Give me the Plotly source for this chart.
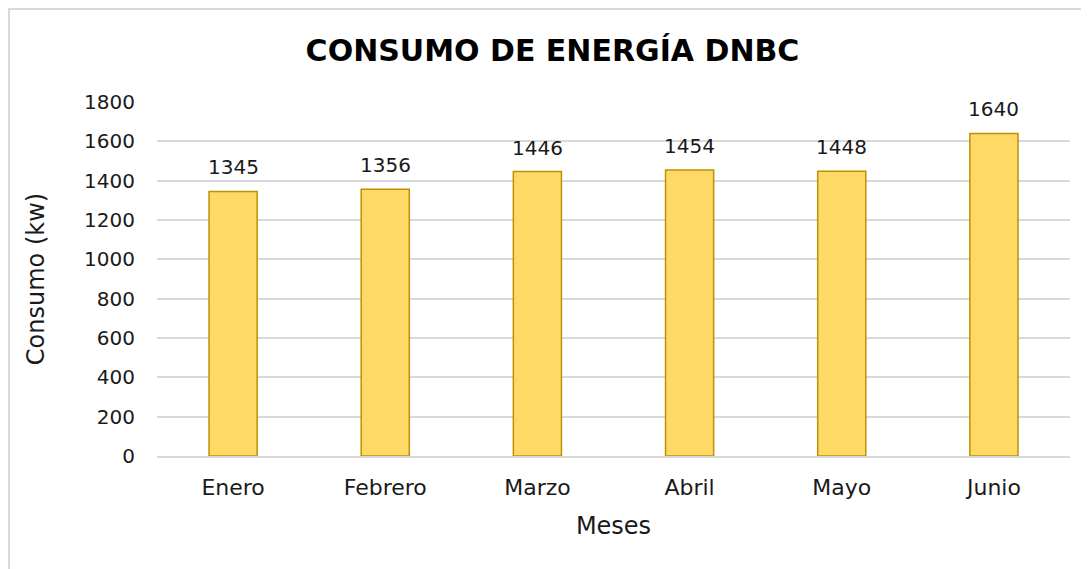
import plotly.graph_objects as go

meses = ["Enero", "Febrero", "Marzo", "Abril", "Mayo", "Junio"]
consumo = [1345, 1356, 1446, 1454, 1448, 1640]
y_ticks = [0, 200, 400, 600, 800, 1000, 1200, 1400, 1600, 1800]

FONT = "DejaVu Sans"
TXT = "#1a1a1a"

fig = go.Figure()
fig.add_trace(go.Bar(
    x=meses, y=consumo,
    marker=dict(color="#FFD966", line=dict(color="#BF9000", width=1.5)),
    hoverinfo="x+y",
))

for m, v in zip(meses, consumo):
    fig.add_annotation(x=m, y=v, text=str(v), showarrow=False, yanchor="middle",
                       yshift=24, font=dict(family=FONT, size=20, color=TXT))

L, T, R, B = 149, 94, 27, 121
PW = 1089 - L - R
PH = 569 - T - B

fig.update_layout(
    width=1089, height=569,
    paper_bgcolor="white", plot_bgcolor="white",
    margin=dict(l=L, r=R, t=T, b=B),
    bargap=0.684,
    showlegend=False,
    title=dict(text="<b>CONSUMO DE ENERGÍA DNBC</b>", x=0.5, xanchor="center",
               y=1 - 42 / 569, yanchor="middle", xref="container", yref="container",
               font=dict(family=FONT, size=30, color="#000000")),
    font=dict(family=FONT, color=TXT),
    shapes=[dict(type="rect", xref="paper", yref="paper",
                 x0=-(L - 1) / PW, x1=1.2, y0=-1.0, y1=1 + (T - 1) / PH,
                 line=dict(color="#D9D9D9", width=2), fillcolor="rgba(0,0,0,0)", layer="below")],
)
fig.update_xaxes(
    title=dict(text="Meses", font=dict(family=FONT, size=24, color=TXT), standoff=18),
    tickfont=dict(family=FONT, size=22, color=TXT),
    showline=True, linecolor="#D9D9D9", linewidth=2, ticks="", showgrid=False,
    ticklabelstandoff=11,
)
fig.update_yaxes(
    title=dict(text="Consumo (kw)", font=dict(family=FONT, size=24, color=TXT), standoff=32),
    tickfont=dict(family=FONT, size=20, color=TXT),
    range=[0, 1800], tickvals=y_ticks, showgrid=True, gridcolor="#D9D9D9", gridwidth=1.5,
    zeroline=False, showline=False, ticks="", ticklabelstandoff=21,
)
fig.write_html("out.html")
